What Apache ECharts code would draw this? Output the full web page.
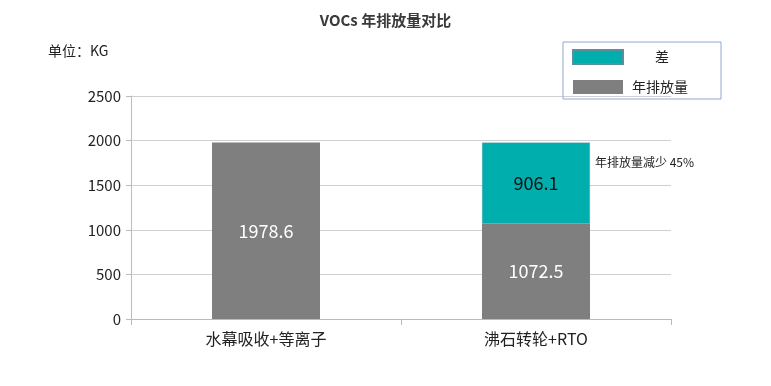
<!DOCTYPE html>
<html><head><meta charset="utf-8">
<script src="https://cdn.jsdelivr.net/npm/echarts@6/dist/echarts.min.js"></script>
<style>html,body{margin:0;padding:0;background:#fff}#c{width:771px;height:386px}</style>
</head><body><div id="c"></div>
<script>
const categories = ['水幕吸收+等离子', '沸石转轮+RTO'];
const emissions = [1978.6, 1072.5];
const diff = [null, 906.1];
const yTicks = [0, 500, 1000, 1500, 2000, 2500];
const note = '年排放量减少 45%';
const font = '"Noto Sans CJK SC", "Noto Sans", sans-serif';

const chart = echarts.init(document.getElementById('c'));
chart.setOption({
  animation: false,
  textStyle: { fontFamily: font },
  title: {
    text: 'VOCs 年排放量对比', left: 'center', top: 8,
    textStyle: { fontFamily: font, fontSize: 15, fontWeight: 'bold', color: '#3a3a3a' }
  },
  graphic: [{ type: 'text', left: 48, top: 44, style: { text: '单位：KG', fontFamily: font, fontSize: 14, fill: '#222' } }],
  legend: {
    orient: 'vertical', right: 50, top: 42,
    data: ['差', '年排放量'],
    icon: 'rect',
    itemWidth: 50, itemHeight: 14, itemGap: 15,
    borderColor: '#8faacc', borderWidth: 1, padding: [7, 33, 5, 9],
    formatter: n => n === '差' ? '{c|差}' : n,
    textStyle: { fontFamily: font, fontSize: 14, color: '#222', padding: [0, 0, 0, 4],
      rich: { c: { fontFamily: font, fontSize: 14, color: '#222', padding: [0, 0, 0, 23] } } }
  },
  grid: { left: 131, right: 100, top: 96, bottom: 67 },
  xAxis: {
    type: 'category', data: categories,
    axisLine: { lineStyle: { color: '#bbb' } },
    axisTick: { show: true, length: 6, lineStyle: { color: '#bbb' } },
    axisLabel: { fontFamily: font, fontSize: 16, color: '#222', margin: 12 }
  },
  yAxis: {
    type: 'value', min: 0, max: 2500, interval: 500,
    axisLine: { show: true, lineStyle: { color: '#bbb' } },
    axisTick: { show: true, length: 5, lineStyle: { color: '#bbb' } },
    splitLine: { lineStyle: { color: '#d0d0d0' } },
    axisLabel: { fontFamily: font, fontSize: 15, color: '#222', margin: 10,
      formatter: v => yTicks.includes(v) ? String(v) : '' }
  },
  series: [
    {
      name: '年排放量', type: 'bar', stack: 's', data: emissions, barWidth: '40%',
      itemStyle: { color: '#7f7f7f' },
      label: { show: true, position: 'inside', fontFamily: font, fontSize: 18, color: '#fff' }
    },
    {
      name: '差', type: 'bar', stack: 's', data: diff, barWidth: '40%',
      itemStyle: { color: '#00aeae', borderColor: '#5a8fa0', borderWidth: 0.5, borderType: 'dotted' },
      label: { show: true, position: 'inside', fontFamily: font, fontSize: 18, color: '#111' },
      markPoint: {
        symbol: 'circle', symbolSize: 0,
        data: [{ coord: [1, 1750] }],
        label: { show: true, position: 'right', offset: [54, 0], formatter: note,
          fontFamily: font, fontSize: 12, color: '#222' }
      }
    }
  ]
});
</script></body></html>
